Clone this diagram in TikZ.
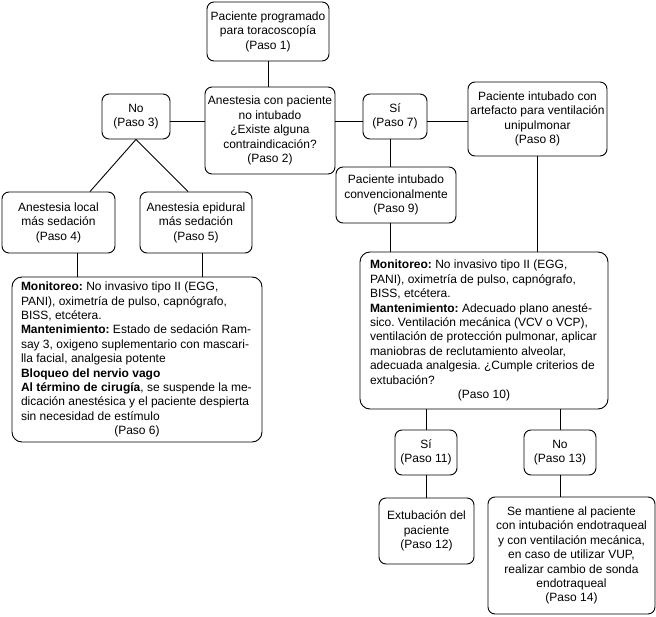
\documentclass[tikz,border=0pt]{standalone}
\usepackage{fontspec}
\setmainfont{Liberation Sans}
\begin{document}
\begin{tikzpicture}[x=1pt,y=-1pt,
  box/.style={draw, line width=0.9pt, rounded corners=7pt, align=center, inner sep=0pt,
    font=\fontsize{12}{14.4}\selectfont\frenchspacing},
  bigbox/.style={box, rounded corners=10pt, align=left},
  link/.style={line width=0.9pt}]
\useasboundingbox[fill=white] (0,0) rectangle (656,617);
% top row
\node[box, minimum width=122pt, minimum height=59pt] (b1) at (268,31.5)
  {Paciente programado\\para toracoscopía\\(Paso 1)};
\node[box, minimum width=130pt, minimum height=87pt] (b2) at (270,130.5)
  {Anestesia con paciente\\no intubado\\¿Existe alguna\\contraindicación?\\(Paso 2)};
\node[box, minimum width=68pt, minimum height=45pt] (b3) at (136,116.5)
  {No\\(Paso 3)};
\node[box, minimum width=64pt, minimum height=45pt] (b7) at (395,116.5)
  {Sí\\(Paso 7)};
\node[box, minimum width=139pt, minimum height=74pt] (b8) at (537.5,119)
  {Paciente intubado con\\artefacto para ventilación\\unipulmonar\\(Paso 8)};
% left branch
\node[box, minimum width=113pt, minimum height=61pt] (b4) at (58.5,222.5)
  {Anestesia local\\más sedación\\(Paso 4)};
\node[box, minimum width=112pt, minimum height=61pt] (b5) at (196,222.5)
  {Anestesia epidural\\más sedación\\(Paso 5)};
\node[bigbox, minimum width=250pt, minimum height=165pt] (b6) at (137,359.5)
  {\textbf{Monitoreo:} No invasivo tipo II (EGG,\\
   PANI), oximetría de pulso, capnógrafo,\\
   BISS, etcétera.\\
   \textbf{Mantenimiento:} Estado de sedación Ram-\\
   say 3, oxigeno suplementario con mascari-\\
   lla facial, analgesia potente\\
   \textbf{Bloqueo del nervio vago}\\
   \textbf{Al término de cirugía}, se suspende la me-\\
   dicación anestésica y el paciente despierta\\
   sin necesidad de estímulo\\
   \makebox[232pt]{(Paso 6)}};
% right branch
\node[box, minimum width=120pt, minimum height=56pt] (b9) at (396,195)
  {Paciente intubado\\convencionalmente\\(Paso 9)};
\node[bigbox, minimum width=248pt, minimum height=157pt] (b10) at (484,330.5)
  {\textbf{Monitoreo:} No invasivo tipo II (EGG,\\
   PANI), oximetría de pulso, capnógrafo,\\
   BISS, etcétera.\\
   \textbf{Mantenimiento:} Adecuado plano anesté-\\
   sico. Ventilación mecánica (VCV o VCP),\\
   ventilación de protección pulmonar, aplicar\\
   maniobras de reclutamiento alveolar,\\
   adecuada analgesia. ¿Cumple criterios de\\
   extubación?\\
   \makebox[228pt]{(Paso 10)}};
\node[box, minimum width=62pt, minimum height=45pt] (b11) at (426,452.5)
  {Sí\\(Paso 11)};
\node[box, minimum width=72pt, minimum height=45pt] (b13) at (560,452.5)
  {No\\(Paso 13)};
\node[box, minimum width=95pt, minimum height=66pt] (b12) at (426.5,531)
  {Extubación del\\paciente\\(Paso 12)};
\node[box, minimum width=167pt, minimum height=117pt] (b14) at (571.5,555.5)
  {Se mantiene al paciente\\con intubación endotraqueal\\y con ventilación mecánica,\\en caso de utilizar VUP,\\realizar cambio de sonda\\endotraqueal\\(Paso 14)};
% connectors
\draw[link] (b1.south) -- (b1.south |- b2.north);
\draw[link] ([yshift=-4.5pt]b3.east) -- ([yshift=-4.5pt]b3.east -| b2.west);
\draw[link] ([yshift=-4.5pt]b7.west) -- ([yshift=-4.5pt]b7.west -| b2.east);
\draw[link] ([yshift=-4.5pt]b7.east) -- ([yshift=-4.5pt]b7.east -| b8.west);
\draw[link] ([xshift=31.5pt]b4.north) -- (b3.south) -- ([xshift=-8pt]b5.north);
\draw[link] ([xshift=18.5pt]b4.south) -- ([xshift=18.5pt]b4.south |- b6.north);
\draw[link] ([xshift=6pt]b5.south) -- ([xshift=6pt]b5.south |- b6.north);
\draw[link] ([xshift=-5pt]b7.south) -- ([xshift=-5pt]b7.south |- b9.north);
\draw[link] ([xshift=-6pt]b9.south) -- ([xshift=-6pt]b9.south |- b10.north);
\draw[link] (b8.south) -- (b8.south |- b10.north);
\draw[link] (b11.north) -- (b11.north |- b10.south);
\draw[link] (b13.north) -- (b13.north |- b10.south);
\draw[link] (b11.south) -- (b11.south |- b12.north);
\draw[link] (b13.south) -- (b13.south |- b14.north);
\end{tikzpicture}
\end{document}
